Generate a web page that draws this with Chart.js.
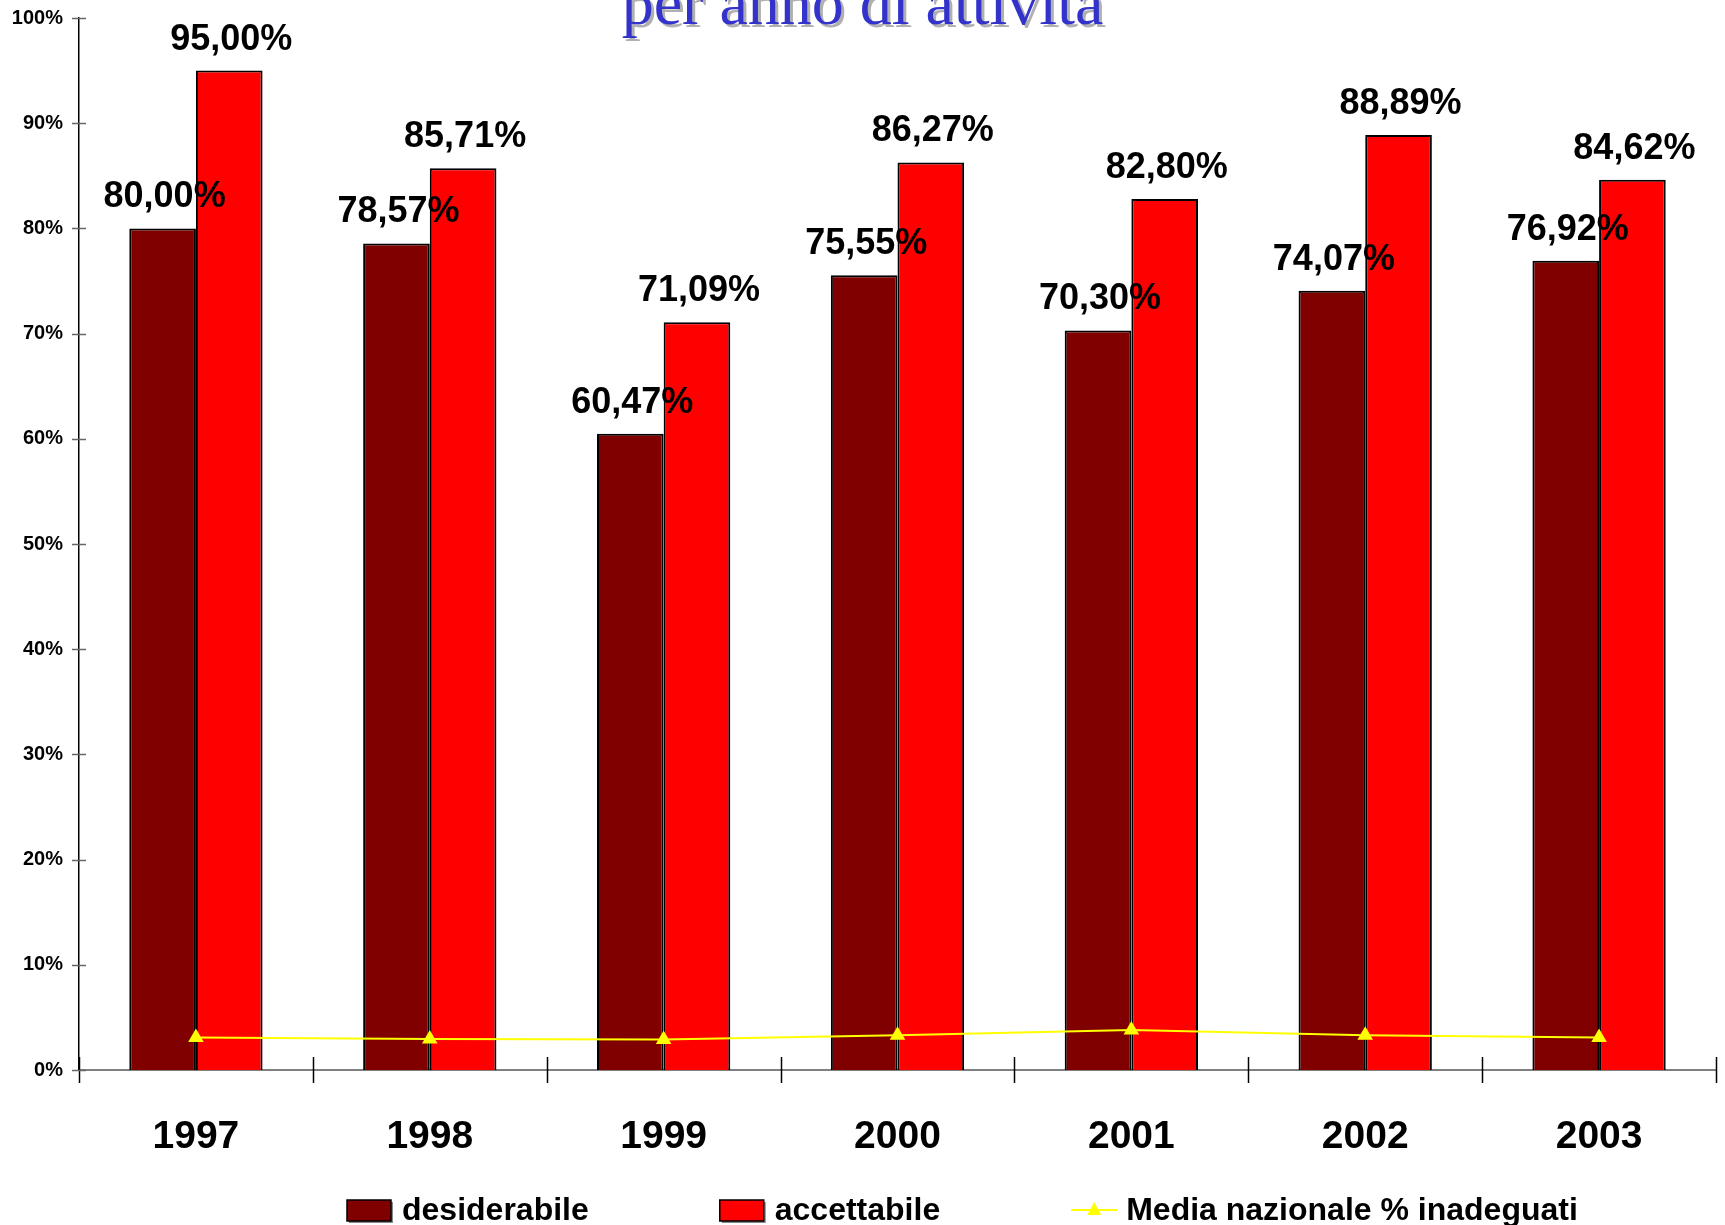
<!DOCTYPE html>
<html>
<head>
<meta charset="utf-8">
<script src="https://cdn.jsdelivr.net/npm/chart.js@4.4.1/dist/chart.umd.min.js"></script>
<style>
  html, body { margin: 0; padding: 0; background: #fff; }
  canvas { display: block; }
</style>
</head>
<body>
<canvas id="chart" width="1725" height="1225"></canvas>
<script>
// data
const years = ['1997', '1998', '1999', '2000', '2001', '2002', '2003'];
const desiderabile = [80.00, 78.57, 60.47, 75.55, 70.30, 74.07, 76.92];
const accettabile = [95.00, 85.71, 71.09, 86.27, 82.80, 88.89, 84.62];
const mediaNazionale = [3.1, 2.95, 2.9, 3.3, 3.8, 3.3, 3.1];
const yTicks = [0, 10, 20, 30, 40, 50, 60, 70, 80, 90, 100];
const titleText = 'per anno di attività';

const SANS = '"Liberation Sans", Arial, sans-serif';
const SERIF = '"Liberation Serif", "Times New Roman", serif';

function fmt(v) {
  return v.toFixed(2).replace('.', ',') + '%';
}

// value labels above the bars
const valueLabels = {
  id: 'valueLabels',
  afterDatasetsDraw(chart) {
    const ctx = chart.ctx;
    ctx.save();
    ctx.font = 'bold 36px ' + SANS;
    ctx.fillStyle = '#000';
    ctx.textAlign = 'center';
    ctx.textBaseline = 'alphabetic';
    chart.data.datasets.forEach((ds, di) => {
      if (ds.type === 'line') return;
      chart.getDatasetMeta(di).data.forEach((bar, i) => {
        ctx.fillText(fmt(ds.data[i]), bar.x + 2, bar.y - 21);
      });
    });
    ctx.restore();
  }
};

// tick marks that cross the axes, like the original
const crossTicks = {
  id: 'crossTicks',
  afterDraw(chart) {
    const ctx = chart.ctx;
    const y = chart.scales.y;
    const area = chart.chartArea;
    ctx.save();
    ctx.strokeStyle = '#000';
    ctx.lineWidth = 1.5;
    const step = (area.right - area.left) / years.length;
    for (let i = 0; i <= years.length; i++) {
      const px = Math.round(area.left + i * step) + 0.5;
      ctx.beginPath();
      ctx.moveTo(px, area.bottom - 13);
      ctx.lineTo(px, area.bottom + 13);
      ctx.stroke();
    }
    ctx.strokeStyle = '#666';
    yTicks.forEach(v => {
      const py = Math.round(y.getPixelForValue(v)) + 0.5;
      ctx.beginPath();
      ctx.moveTo(area.left - 7, py);
      ctx.lineTo(area.left + 7, py);
      ctx.stroke();
    });
    ctx.restore();
  }
};

// clipped title at the top
const topTitle = {
  id: 'topTitle',
  afterDraw(chart) {
    const ctx = chart.ctx;
    const cx = chart.width / 2;
    ctx.save();
    ctx.font = '64px ' + SERIF;
    ctx.textAlign = 'center';
    ctx.textBaseline = 'alphabetic';
    ctx.fillStyle = '#b0b0b0';
    ctx.fillText(titleText, cx + 3, 27);
    ctx.fillStyle = '#3333cc';
    ctx.fillText(titleText, cx, 24);
    ctx.restore();
  }
};

// legend along the bottom edge
const bottomLegend = {
  id: 'bottomLegend',
  afterDraw(chart) {
    const ctx = chart.ctx;
    ctx.save();
    ctx.font = 'bold 32px ' + SANS;
    ctx.textBaseline = 'alphabetic';
    ctx.textAlign = 'left';
    let x = 347;
    const base = 1220;
    const gap = 131;
    chart.data.datasets.forEach(ds => {
      if (ds.type === 'line') {
        ctx.strokeStyle = ds.borderColor;
        ctx.lineWidth = 2;
        ctx.beginPath();
        ctx.moveTo(x, 1210);
        ctx.lineTo(x + 46, 1210);
        ctx.stroke();
        ctx.fillStyle = ds.pointBackgroundColor;
        ctx.beginPath();
        ctx.moveTo(x + 23, 1202);
        ctx.lineTo(x + 30, 1215);
        ctx.lineTo(x + 16, 1215);
        ctx.closePath();
        ctx.fill();
      } else {
        ctx.fillStyle = '#888';
        ctx.fillRect(x + 2, 1202, 44, 21);
        ctx.fillStyle = ds.backgroundColor;
        ctx.fillRect(x, 1200, 44, 21);
        ctx.strokeStyle = '#000';
        ctx.lineWidth = 1.5;
        ctx.strokeRect(x, 1200, 44, 21);
      }
      ctx.fillStyle = '#000';
      ctx.fillText(ds.label, x + 55, base);
      x += 55 + ctx.measureText(ds.label).width + gap;
    });
    ctx.restore();
  }
};

new Chart(document.getElementById('chart').getContext('2d'), {
  data: {
    labels: years,
    datasets: [
      {
        type: 'bar',
        label: 'desiderabile',
        data: desiderabile,
        backgroundColor: '#800000',
        borderColor: '#000',
        borderWidth: 2,
        order: 1
      },
      {
        type: 'bar',
        label: 'accettabile',
        data: accettabile,
        backgroundColor: '#ff0000',
        borderColor: '#000',
        borderWidth: 2,
        order: 1
      },
      {
        type: 'line',
        label: 'Media nazionale % inadeguati',
        data: mediaNazionale,
        borderColor: '#ffff00',
        backgroundColor: '#ffff00',
        borderWidth: 2,
        pointStyle: 'triangle',
        pointRadius: 7,
        pointBackgroundColor: '#ffff00',
        pointBorderColor: '#ffff00',
        tension: 0,
        order: 0
      }
    ]
  },
  options: {
    responsive: false,
    animation: false,
    devicePixelRatio: 1,
    layout: { padding: { top: 3, right: 8, bottom: 0, left: 0 } },
    datasets: {
      bar: { categoryPercentage: 0.57, barPercentage: 1.0 }
    },
    plugins: {
      legend: { display: false },
      title: { display: false },
      tooltip: { enabled: false }
    },
    scales: {
      x: {
        offset: true,
        grid: { display: false },
        border: { display: true, color: '#808080', width: 2 },
        ticks: {
          color: '#000',
          font: { family: SANS, size: 39, weight: 'bold' },
          padding: 36,
          maxRotation: 0
        },
        afterFit(scale) { scale.height = 155; }
      },
      y: {
        min: 0,
        max: 100,
        afterBuildTicks(scale) {
          scale.ticks = yTicks.map(v => ({ value: v }));
        },
        grid: { display: false },
        border: { display: true, color: '#000', width: 1.5 },
        ticks: {
          color: '#000',
          font: { family: SANS, size: 20, weight: 'bold', lineHeight: 1.0 },
          padding: 8,
          callback: v => v + '%'
        },
        afterFit(scale) { scale.width = 79; }
      }
    }
  },
  plugins: [valueLabels, crossTicks, topTitle, bottomLegend]
});
</script>
</body>
</html>
